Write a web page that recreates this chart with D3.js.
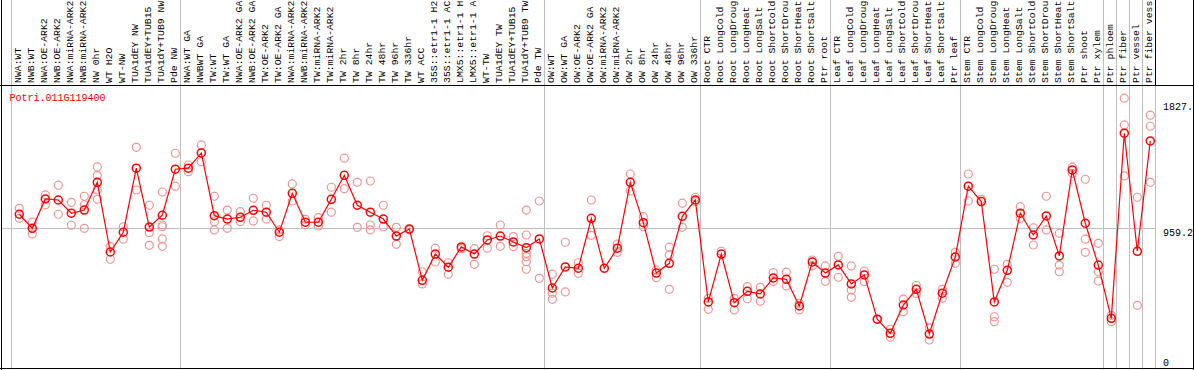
<!DOCTYPE html>
<html>
<head>
<meta charset="utf-8">
<script src="https://cdn.jsdelivr.net/npm/d3@7"></script>
<style>
  body { margin: 0; background: #fff; }
  svg { display: block; }
  text { font-family: "Liberation Mono", "DejaVu Sans Mono", monospace; font-size: 10px; }
  .sample-label { font-size: 9.8px; }
</style>
</head>
<body>
<svg id="chart" width="1194" height="370"></svg>
<script>
/* chart data */
var geneName = "Potri.011G119400";

var samples = [
  "NWA:WT", "NWB:WT", "NWA:OE-ARK2", "NWB:OE-ARK2", "NWA:miRNA-ARK2", "NWB:miRNA-ARK2",
  "NW 0hr", "WT H2O", "WT-NW", "TUA1dEY NW", "TUA1dEY+TUB15", "TUA1dY+TUB9 NW", "Pde NW",
  "NWA:WT GA", "NWBWT GA", "TW:WT", "TW:WT GA", "NWA:OE-ARK2 GA", "NWB:OE-ARK2 GA",
  "TW:OE-ARK2", "TW:OE-ARK2 GA", "NWA:miRNA-ARK2 GA", "NWB:miRNA-ARK2 GA", "TW:miRNA-ARK2",
  "TW:miRNA-ARK2", "TW 2hr", "TW 8hr", "TW 24hr", "TW 48hr", "TW 96hr", "TW 336hr", "WT ACC",
  "35S::etr1-1 H2O", "35S::etr1-1 ACC", "LMX5::etr1-1 H2O", "LMX5::etr1-1 ACC", "WT-TW",
  "TUA1dEY TW", "TUA1dEY+TUB15", "TUA1dY+TUB9 TW", "Pde TW",
  "OW:WT", "OW:WT GA", "OW:OE-ARK2", "OW:OE-ARK2 GA", "OW:miRNA-ARK2", "OW:miRNA-ARK2",
  "OW 2hr", "OW 8hr", "OW 24hr", "OW 48hr", "OW 96hr", "OW 336hr",
  "Root CTR", "Root LongCold", "Root LongDrought", "Root LongHeat", "Root LongSalt",
  "Root ShortCold", "Root ShortDrought", "Root ShortHeat", "Root ShortSalt", "Ptr root",
  "Leaf CTR", "Leaf LongCold", "Leaf LongDrought", "Leaf LongHeat", "Leaf LongSalt",
  "Leaf ShortCold", "Leaf ShortDrought", "Leaf ShortHeat", "Leaf ShortSalt", "Ptr leaf",
  "Stem CTR", "Stem LongCold", "Stem LongDrought", "Stem LongHeat", "Stem LongSalt",
  "Stem ShortCold", "Stem ShortDrought", "Stem ShortHeat", "Stem ShortSalt", "Ptr shoot",
  "Ptr xylem", "Ptr phloem", "Ptr fiber", "Ptr vessel", "Ptr fiber vessel"
];

// mean expression per sample
var means = [
  1052, 955, 1157, 1150, 1059, 1081, 1272, 792, 928, 1369, 964, 1045, 1362,
  1369, 1474, 1042, 1019, 1031, 1079, 1066, 928, 1196, 997, 997, 1155, 1320,
  1114, 1066, 1019, 902, 951, 597, 778, 687, 827, 778, 875, 902, 861, 822, 882,
  544, 689, 680, 1024, 680, 818, 1272, 994, 647, 714, 1038, 1150,
  448, 778, 443, 521, 503, 613, 604, 420, 723, 647,
  703, 572, 634, 329, 232, 427, 535, 227, 508, 758,
  1245, 1139, 448, 666, 1059, 909, 1040, 765, 1357, 990, 702,
  335, 1610, 797, 1557
];

// individual replicates per sample
var replicates = [
  [1093, 1024], [997, 916], [1185, 1116], [1252, 1052], [1134, 976], [1176, 1118, 955],
  [1378, 1318, 1219, 1155], [829, 742], [966, 880], [1513, 1219], [1114, 925, 838],
  [1205, 978, 966, 882, 831], [1472, 1245],
  [1391, 1345], [1529, 1414], [1176, 1001, 944], [1081, 955], [1070, 1001], [1162, 1006],
  [1114, 1019], [944, 898], [1261, 1143], [1017, 978], [1028, 971], [1238, 1066],
  [1438, 1228], [1272, 962], [1281, 978, 944], [1114, 966], [962, 845], [944],
  [656, 572], [818, 723], [718, 639], [815], [815, 707], [904, 818], [978, 831],
  [898, 829], [1081, 909, 783, 760, 725, 673], [1143, 611],
  [639, 508, 466], [859, 517], [718, 645], [1150, 907], [680], [847, 790],
  [1329, 1212], [1035, 966], [668, 615], [825, 771, 535], [1128, 962], [1169, 1139],
  [473, 397], [797], [473, 393], [553, 470], [549, 453], [650, 588], [654, 558],
  [439, 393], [737, 696], [696, 590],
  [762, 618], [696, 530, 480], [661, 588], [329], [260, 205], [468, 381], [563, 507],
  [269, 186], [535, 473], [790, 714],
  [1329, 1143], [1155], [673, 346, 312], [707, 583], [1104, 1024], [959, 840],
  [1176, 944], [921, 702, 656], [1376, 1334], [1293, 880, 790], [852, 656, 592],
  [356, 312], [1851, 1667, 1316], [1169, 425], [1734, 1658, 1272]
];

// first sample index of each group (separator lines)
var groupStarts = [0, 13, 41, 53, 63, 73, 84, 85, 86, 87, 88];

var yTickValues = [0, 959.2, 1827];
var yTickLabels = ["0", "959.2", "1827."];

/* layout */
var svg = d3.select("#chart"),
    width = 1194,
    height = 370,
    labelBottom = 85,
    plotRight = 1155.5,
    maxLabelChars = 14;

var x = d3.scaleBand()
    .domain(d3.range(samples.length + 1))
    .range([10.5, 10.5 + 13 * (samples.length + 1)])
    .padding(0);

function cx(i) { return x(i) + 8.8; }

var y = d3.scaleLinear()
    .domain([0, 1827])
    .range([367, 101.7]);

// group separators
svg.append("g")
  .selectAll("line")
  .data(groupStarts)
  .enter().append("line")
  .attr("x1", function(d) { return Math.round(x(d)) + 0.5; })
  .attr("x2", function(d) { return Math.round(x(d)) + 0.5; })
  .attr("y1", 0)
  .attr("y2", height)
  .attr("stroke", "#c0c0c0")
  .attr("stroke-width", 1);

// middle gridline
svg.append("line")
  .attr("x1", 1)
  .attr("x2", plotRight)
  .attr("y1", Math.round(y(959.2)) + 0.5)
  .attr("y2", Math.round(y(959.2)) + 0.5)
  .attr("stroke", "#c0c0c0");

// borders
svg.append("line")
  .attr("x1", 0).attr("x2", width)
  .attr("y1", labelBottom + 0.5).attr("y2", labelBottom + 0.5)
  .attr("stroke", "#000");
svg.append("line")
  .attr("x1", 1.5).attr("x2", 1.5)
  .attr("y1", 0).attr("y2", height)
  .attr("stroke", "#000");
svg.append("line")
  .attr("x1", 0).attr("x2", width)
  .attr("y1", height - 1.5).attr("y2", height - 1.5)
  .attr("stroke", "#000");
svg.append("line")
  .attr("x1", plotRight).attr("x2", plotRight)
  .attr("y1", 0).attr("y2", labelBottom)
  .attr("stroke", "#000");
svg.append("line")
  .attr("x1", width - 0.5).attr("x2", width - 0.5)
  .attr("y1", 0).attr("y2", height)
  .attr("stroke", "#000");

// sample labels (shortened to 14 characters like the source plot)
svg.append("g")
  .selectAll("text")
  .data(samples)
  .enter().append("text")
  .attr("class", "sample-label")
  .attr("transform", function(d, i) {
    return "translate(" + (cx(i) + 1.8) + "," + (labelBottom - 2) + ") rotate(-90)";
  })
  .attr("fill", "#000")
  .text(function(d) { return d.slice(0, maxLabelChars); });

// title
svg.append("text")
  .attr("x", 9.5)
  .attr("y", 100.5)
  .attr("fill", "#ff0000")
  .text(geneName);

// y labels
svg.append("g")
  .selectAll("text")
  .data(yTickValues)
  .enter().append("text")
  .attr("x", 1163)
  .attr("y", function(d, i) { return i === 0 ? y(d) - 1.5 : y(d) + 8.5; })
  .attr("fill", "#000")
  .text(function(d, i) { return yTickLabels[i]; });

// replicate points
var repPoints = [];
replicates.forEach(function(reps, i) {
  reps.forEach(function(v) { repPoints.push({i: i, v: v}); });
});

svg.append("g")
  .selectAll("circle")
  .data(repPoints)
  .enter().append("circle")
  .attr("cx", function(d) { return cx(d.i); })
  .attr("cy", function(d) { return y(d.v); })
  .attr("r", 4)
  .attr("fill", "none")
  .attr("stroke", "#f09494")
  .attr("stroke-width", 1.2);

// mean line
var line = d3.line()
  .x(function(d, i) { return cx(i); })
  .y(function(d) { return y(d); });

svg.append("path")
  .datum(means)
  .attr("d", line)
  .attr("fill", "none")
  .attr("stroke", "#ff0000")
  .attr("stroke-width", 1.2);

svg.append("g")
  .selectAll("circle")
  .data(means)
  .enter().append("circle")
  .attr("cx", function(d, i) { return cx(i); })
  .attr("cy", function(d) { return y(d); })
  .attr("r", 4)
  .attr("fill", "none")
  .attr("stroke", "#ff0000")
  .attr("stroke-width", 1.5);
</script>
</body>
</html>
